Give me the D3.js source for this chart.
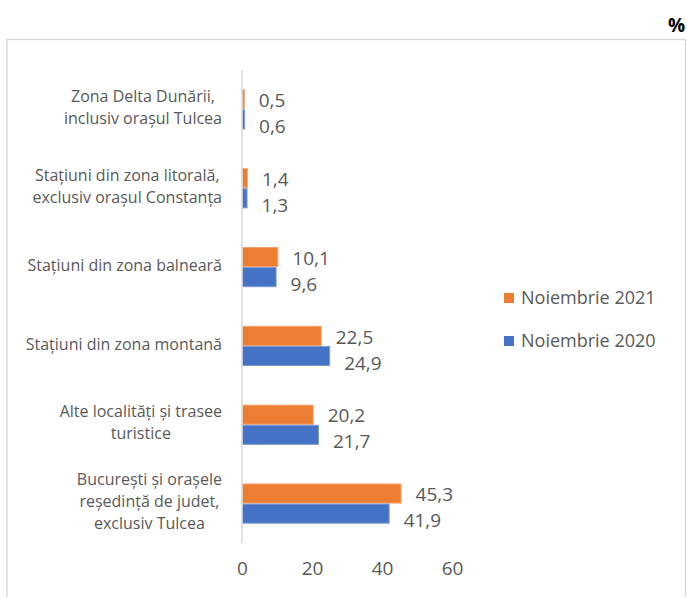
<!DOCTYPE html>
<html><head><meta charset="utf-8">
<script src="https://cdn.jsdelivr.net/npm/d3@7"></script>
<style>body{margin:0;background:#fff;} svg{display:block;}</style>
</head><body>
<script>
const categories = [
  ["Zona Delta Dunării,", "inclusiv orașul Tulcea"],
  ["Stațiuni din zona litorală,", "exclusiv orașul Constanța"],
  ["Stațiuni din zona balneară"],
  ["Stațiuni din zona montană"],
  ["Alte localități și trasee", "turistice"],
  ["București și orașele", "reședință de judet,", "exclusiv Tulcea"]
];
const seriesNames = ["Noiembrie 2021", "Noiembrie 2020"];
const values2021 = [0.5, 1.4, 10.1, 22.5, 20.2, 45.3];
const values2020 = [0.6, 1.3, 9.6, 24.9, 21.7, 41.9];
const tickValues = [0, 20, 40, 60];
const colors = ["#ED7D31", "#4472C4"];
const edgeColors = ["#F4A36F", "#7C9BD6"];

const W = 687, H = 597;
const font = "Open Sans, sans-serif";
const grey = "#595959";
const svg = d3.select("body").append("svg").attr("width", W).attr("height", H);

svg.append("rect").attr("x", 7).attr("y", 39.5).attr("width", 678.5).attr("height", 600)
  .attr("fill", "none").attr("stroke", "#d9d9d9").attr("stroke-width", 1.5);

svg.append("text").attr("x", 685).attr("y", 32).attr("text-anchor", "end")
  .attr("font-family", font).attr("font-weight", "bold").attr("font-size", 19).attr("fill", "#000").text("%");

const keys = categories.map((c, i) => i);
const x = d3.scaleLinear().domain([0, 60]).range([242, 452]);
const y = d3.scaleBand().domain(keys).range([70, 543]).paddingInner(0.49).paddingOuter(0.245);
const ySub = d3.scaleBand().domain([0, 1]).range([0, y.bandwidth()]);
const series = [values2021, values2020];

// bars
series.forEach((vals, s) => {
  svg.append("g").selectAll("rect").data(vals).join("rect")
    .attr("x", x(0) + 0.5).attr("y", (d, i) => y(i) + ySub(s) + 0.5)
    .attr("width", d => x(d) - x(0)).attr("height", ySub.bandwidth() - 1)
    .attr("fill", colors[s]).attr("stroke", edgeColors[s]).attr("stroke-width", 1);
  svg.append("g").selectAll("text").data(vals).join("text")
    .attr("x", d => x(d) + 15)
    .attr("y", (d, i) => y(i) + ySub(s) + ySub.bandwidth() / 2 + (s === 0 ? 1 : 7))
    .attr("dy", "0.35em")
    .attr("font-family", font).attr("font-size", 19).attr("fill", grey)
    .text(d => d3.format(".1f")(d).replace(".", ","));
});

// axis line
svg.append("line").attr("x1", x(0)).attr("x2", x(0)).attr("y1", 70).attr("y2", 543)
  .attr("stroke", "#d9d9d9").attr("stroke-width", 1.5);

// x ticks
const xAxis = svg.append("g").attr("transform", "translate(0,561)")
  .call(d3.axisBottom(x).tickValues(tickValues).tickSize(0).tickPadding(0));
xAxis.select(".domain").remove();
xAxis.selectAll("text").attr("font-family", font).attr("font-size", 19).attr("fill", grey).attr("dy", "0.71em");

// category labels
const lineH = 22;
categories.forEach((lines, i) => {
  const g = svg.append("g");
  const cy = y(i) + y.bandwidth() / 2;
  const n = lines.length;
  const texts = lines.map((t, j) => g.append("text")
    .attr("y", cy + (j - (n - 1) / 2) * lineH - 2).attr("dy", "0.35em")
    .attr("font-family", font).attr("font-size", 16).attr("fill", grey)
    .attr("text-anchor", "middle").text(t));
  const maxW = d3.max(texts, t => t.node().getComputedTextLength());
  texts.forEach(t => t.attr("x", 222 - maxW / 2));
});

// legend
const leg = svg.append("g");
seriesNames.forEach((name, s) => {
  const ly = 298 + s * 43;
  leg.append("rect").attr("x", 504).attr("y", ly - 5).attr("width", 10).attr("height", 10).attr("fill", colors[s]);
  leg.append("text").attr("x", 521).attr("y", ly).attr("dy", "0.35em")
    .attr("font-family", font).attr("font-size", 18).attr("fill", grey).text(name);
});
</script>
</body></html>
